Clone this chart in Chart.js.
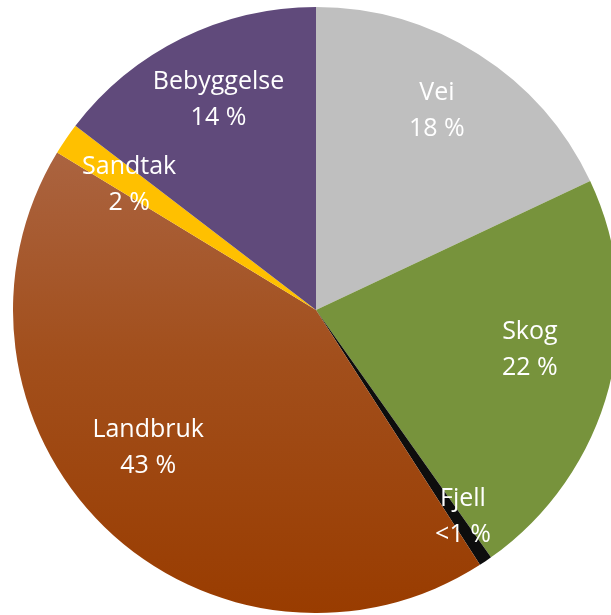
<!DOCTYPE html>
<html>
<head>
<meta charset="utf-8">
<script src="https://cdn.jsdelivr.net/npm/chart.js@4"></script>
<style>
    html, body { margin: 0; padding: 0; background: #ffffff; overflow: hidden; }
    #wrap { position: absolute; left: 13px; top: 7px; width: 606px; height: 606px; }
</style>
</head>
<body>
<div id="wrap"><canvas id="pie" width="606" height="606"></canvas></div>
<script>
// Arealbruk - andeler
const categories = ["Vei", "Skog", "Fjell", "Landbruk", "Sandtak", "Bebyggelse"];
const shares = [18, 22.2, 0.7, 42.8, 1.7, 14.6];
const shareLabels = ["18 %", "22 %", "<1 %", "43 %", "2 %", "14 %"];
const sliceColors = ["#bfbfbf", "#77933c", "#0d0d0d", null, "#ffc000", "#604a7b"];

// label placement: distance from centre (part of radius) and turn from mid angle (deg)
const labelRadius = [0.77, 0.718, 0.837, 0.717, 0.742, 0.765];
const labelTurn = [-1.2, -4.2, -1.4, 6.3, -0.6, 1.4];

// Landbruk has a vertical gradient
function sliceColor(context) {
    const i = context.dataIndex;
    if (sliceColors[i]) return sliceColors[i];
    const chart = context.chart;
    const area = chart.chartArea;
    if (!area) return "#a04a14";
    const g = chart.ctx.createLinearGradient(0, area.top + 140, 0, area.bottom);
    g.addColorStop(0, "#ab6441");
    g.addColorStop(0.45, "#a24f1c");
    g.addColorStop(1, "#993c00");
    return g;
}

// Draw category + percent inside each slice
const sliceLabels = {
    id: "sliceLabels",
    afterDatasetsDraw(chart) {
        const ctx = chart.ctx;
        const meta = chart.getDatasetMeta(0);
        ctx.save();
        ctx.fillStyle = "#ffffff";
        ctx.textAlign = "center";
        ctx.textBaseline = "middle";
        ctx.font = "25px 'Open Sans', 'Liberation Sans', sans-serif";
        meta.data.forEach((arc, i) => {
            const p = arc.getProps(["x", "y", "startAngle", "endAngle", "outerRadius"], true);
            const mid = (p.startAngle + p.endAngle) / 2 + labelTurn[i] * Math.PI / 180;
            const r = p.outerRadius * labelRadius[i];
            const x = p.x + Math.cos(mid) * r;
            const y = p.y + Math.sin(mid) * r;
            ctx.fillText(categories[i], x, y - 18);
            ctx.fillText(shareLabels[i], x, y + 18);
        });
        ctx.restore();
    }
};

new Chart(document.getElementById("pie"), {
    type: "pie",
    data: {
        labels: categories,
        datasets: [{
            data: shares,
            backgroundColor: sliceColor,
            borderWidth: 0
        }]
    },
    options: {
        responsive: false,
        animation: false,
        layout: { padding: 0 },
        plugins: {
            legend: { display: false },
            tooltip: { enabled: false }
        }
    },
    plugins: [sliceLabels]
});
</script>
</body>
</html>
